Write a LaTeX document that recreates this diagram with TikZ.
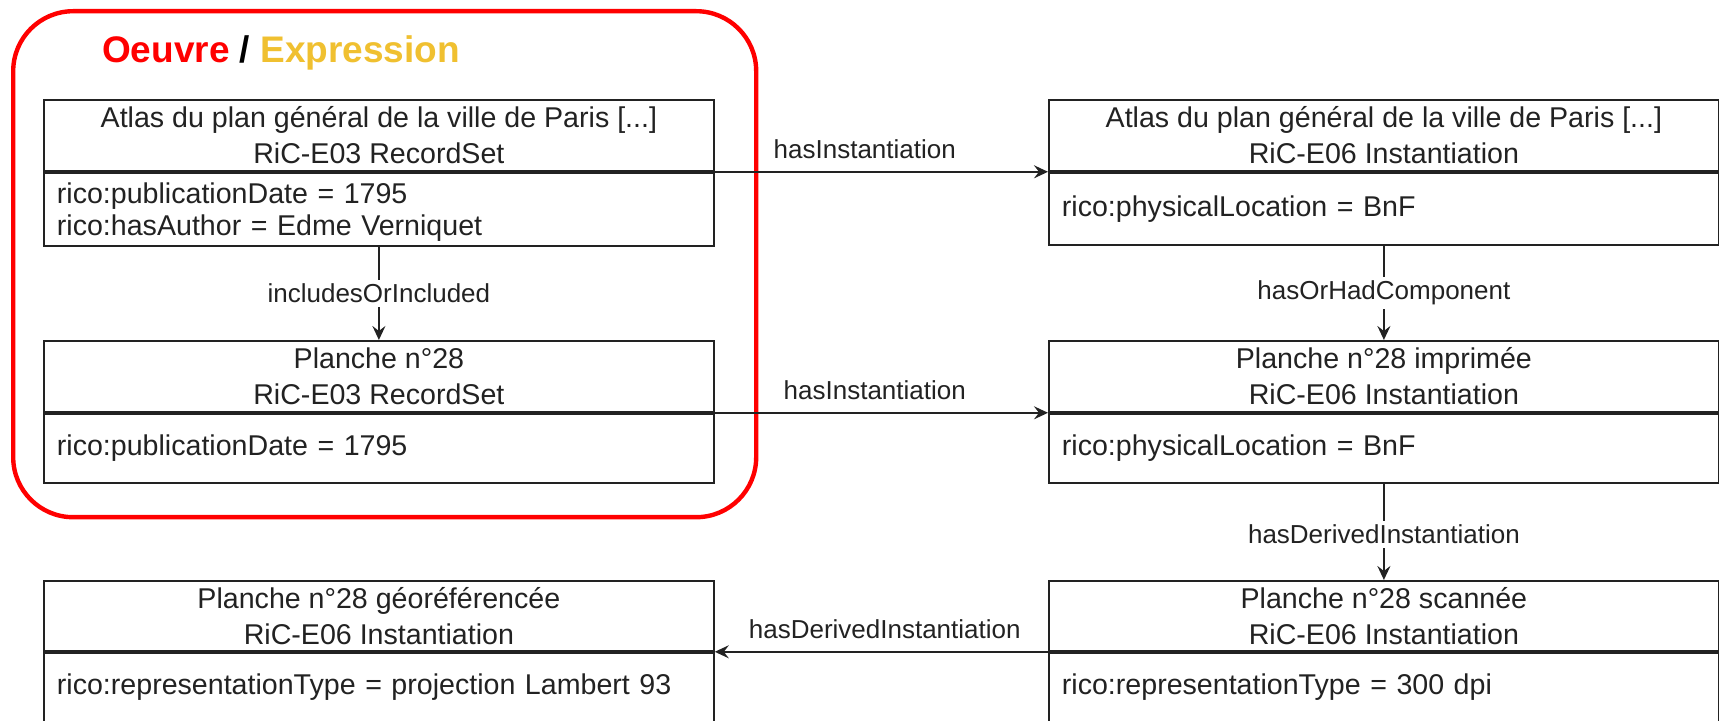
\documentclass[tikz,border=0pt]{standalone}
\usepackage{fontspec}
\setmainfont{Liberation Sans}
\usetikzlibrary{arrows.meta}
\definecolor{oeuvre}{RGB}{255,0,0}
\definecolor{expr}{RGB}{240,192,48}
\definecolor{ink}{RGB}{34,34,34}
\begin{document}
\begin{tikzpicture}[x=0.5pt,y=-0.5pt,
  hdr/.style={draw=ink, line width=0.9pt, minimum width=335pt, minimum height=35.5pt, inner sep=0pt, align=center, anchor=north west, text=ink, font=\fontsize{14.3pt}{18pt}\selectfont},
  bdy/.style={draw=ink, line width=0.9pt, minimum width=335pt, inner xsep=6.5pt, inner ysep=0pt, text width=322pt, align=left, anchor=north west, text=ink, font=\fontsize{14.3pt}{15.9pt}\selectfont},
  lbl/.style={font=\fontsize{13pt}{15pt}\selectfont, inner sep=1pt, text=ink},
  arr/.style={draw=ink, line width=0.95pt, -{Stealth[length=7pt,width=6.5pt,inset=2.5pt]}},
  frame/.style={draw=oeuvre, line width=2.2pt, rounded corners=30pt, anchor=north west, inner sep=0pt}
]
\useasboundingbox (0,0) rectangle (1719,721);
\fill[white] (0,0) rectangle (1719,721);

% red container
\node[frame, minimum width=371.5pt, minimum height=253pt] (frm) at (11,9) {};
\node[font=\fontsize{18.5pt}{22pt}\selectfont\bfseries] (title) at (281,52.6)
  {\textcolor{oeuvre}{Oeuvre} / \textcolor{expr}{Expression}};

% row 1
\node[hdr] (h1) at (43,99) {Atlas du plan général de la ville de Paris [...]\\RiC-E03 RecordSet};
\node[bdy, minimum height=36.5pt] (a1) at (h1.south west) {\rule{0pt}{13pt}rico:publicationDate = 1795\\rico:hasAuthor = Edme Verniquet};
\node[hdr] (h3) at (1048,99) {Atlas du plan général de la ville de Paris [...]\\RiC-E06 Instantiation};
\node[bdy, minimum height=36pt] (a3) at (h3.south west) {rico:physicalLocation = BnF};

% row 2
\node[hdr] (h2) at (43,340) {Planche n°28\\RiC-E03 RecordSet};
\node[bdy, minimum height=34.5pt] (a2) at (h2.south west) {rico:publicationDate = 1795};
\node[hdr] (h4) at (1048,340) {Planche n°28 imprimée\\RiC-E06 Instantiation};
\node[bdy, minimum height=34.5pt] (a4) at (h4.south west) {rico:physicalLocation = BnF};

% row 3
\node[hdr, minimum height=35pt] (h6) at (43,580) {Planche n°28 géoréférencée\\RiC-E06 Instantiation};
\node[bdy, minimum height=34.75pt] (a6) at (h6.south west) {rico:representationType = projection Lambert 93};
\node[hdr, minimum height=35pt] (h5) at (1048,580) {Planche n°28 scannée\\RiC-E06 Instantiation};
\node[bdy, minimum height=34.75pt] (a5) at (h5.south west) {rico:representationType = 300 dpi};

% connectors
\draw[arr] (h1.south east) -- node[lbl, pos=0.45, above=5pt] {hasInstantiation} (h3.south west);
\draw[arr] (h2.south east) -- node[lbl, pos=0.48, above=5pt] {hasInstantiation} (h4.south west);
\draw[arr] (h5.south west) -- node[lbl, pos=0.49, above=5pt] {hasDerivedInstantiation} (h6.south east);
\draw[arr] (a1.south) -- node[lbl, fill=white, inner sep=2pt] {includesOrIncluded} (h2.north);
\draw[arr] (a3.south) -- node[lbl, fill=white, inner sep=2pt] {hasOrHadComponent} (h4.north);
\draw[arr] (a4.south) -- node[lbl, fill=white, inner sep=2pt, pos=0.53] {hasDerivedInstantiation} (h5.north);
\end{tikzpicture}
\end{document}
